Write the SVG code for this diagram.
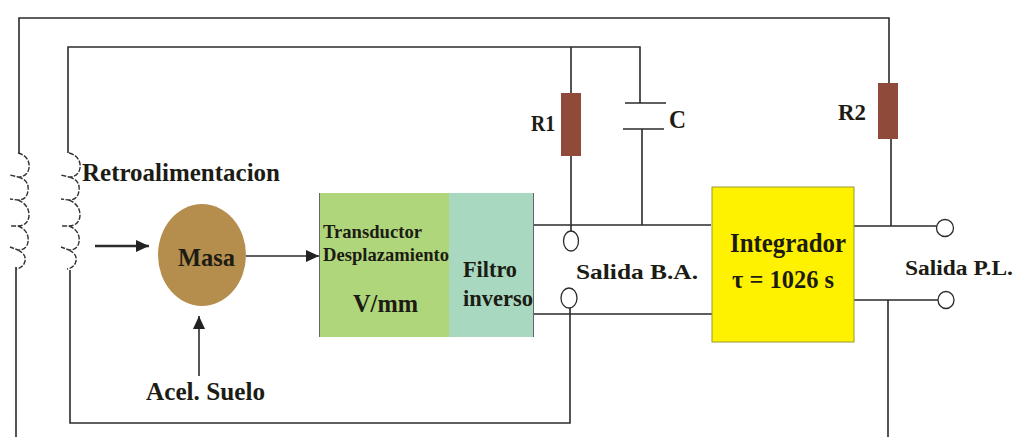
<svg xmlns="http://www.w3.org/2000/svg" width="1018" height="437" viewBox="0 0 1018 437">
<defs>
<marker id="arrow" markerUnits="userSpaceOnUse" markerWidth="14" markerHeight="12" refX="13" refY="6" orient="auto"><path d="M0 0L13 6L0 12Z" fill="#222"/></marker>
<path id="coil" d="M0 0C8 2 12 8 11 15C10 21 6 24 0 24L-8 22M0 24C8 26 11 31 10 38C9 44 6 47 0 47L-8 46M0 47C7 50 11 55 11 62C11 69 6 73 0 73L-8 73M0 73C8 76 11 82 10 89C9 95 5 97 0 97L-8 94M0 97C6 100 8 104 7 108C6 113 3 115 -2 116" fill="none" stroke="#333" stroke-width="1.4" stroke-dasharray="5 1.5"/>
</defs>
<style>
text{font-family:"Liberation Serif","Times New Roman",serif;font-weight:700;fill:#1c1c14;}
.w{fill:none;stroke:#2b2b2b;stroke-width:1.600}
.a{fill:none;stroke:#2b2b2b;stroke-width:1.600;marker-end:url(#arrow)}
.t{fill:#fff;stroke:#2b2b2b;stroke-width:1.300}
.r{fill:#8f4a3a}
</style>
<rect width="1018" height="437" fill="#fff"/>
<g id="connectors">
<path class="w" d="M19 153V18H889V83M891 139V226M854 226H937M853 300H938M888 300V437"/>
<path class="w" d="M68 153V47H640V103M625 103H666M623 129H664M642 129V225M534 225H711M534 314H712"/>
<path class="w" d="M571 47V231M70 270V423H570V308M16 267V437"/>
<path class="a" d="M95 246H149" style="stroke-width:2.400"/>
<path class="a" d="M246 256H319"/>
<path class="a" d="M199 376V316"/>
</g>
<g id="coil-left"><use href="#coil" x="18" y="153"/></g>
<g id="coil-right"><use href="#coil" x="69" y="153"/></g>
<g id="r1"><rect class="r" x="561" y="93" width="20" height="63"/><text x="531" y="131" font-size="24" textLength="24" lengthAdjust="spacingAndGlyphs">R1</text></g>
<g id="c"><text x="669" y="128" font-size="25" textLength="17" lengthAdjust="spacingAndGlyphs">C</text></g>
<g id="r2"><rect class="r" x="878" y="83" width="20" height="56"/><text x="838" y="120" font-size="24" textLength="28" lengthAdjust="spacingAndGlyphs">R2</text></g>
<g id="retro"><text x="82" y="181" font-size="25" textLength="198" lengthAdjust="spacingAndGlyphs">Retroalimentacion</text></g>
<g id="masa"><ellipse cx="202" cy="255" rx="44" ry="51" fill="#b58d4c"/><text x="178" y="266" font-size="26" textLength="57" lengthAdjust="spacingAndGlyphs">Masa</text></g>
<g id="suelo"><text x="146" y="400" font-size="25" textLength="119" lengthAdjust="spacingAndGlyphs">Acel. Suelo</text></g>
<g id="transductor"><rect x="319" y="193" width="130" height="144" fill="#b0d67b"/><path d="M319.500 193V337" stroke="#666" fill="none"/>
<text x="323" y="238" font-size="19" textLength="99" lengthAdjust="spacingAndGlyphs">Transductor</text>
<text x="323" y="261" font-size="19" textLength="126" lengthAdjust="spacingAndGlyphs">Desplazamiento</text>
<text x="353" y="312" font-size="25" textLength="65" lengthAdjust="spacingAndGlyphs">V/mm</text></g>
<g id="filtro"><rect x="449" y="193" width="85" height="144" fill="#a9d8c0"/><path d="M533.500 193V337" stroke="#666" fill="none"/>
<text x="463" y="277" font-size="23" textLength="54" lengthAdjust="spacingAndGlyphs">Filtro</text>
<text x="463" y="306" font-size="23" textLength="70" lengthAdjust="spacingAndGlyphs">inverso</text></g>
<g id="integrador"><rect x="712" y="187" width="142" height="155" fill="#fff200" stroke="#9a9a30"/>
<text x="730" y="252" font-size="27" textLength="116" lengthAdjust="spacingAndGlyphs">Integrador</text>
<text x="732" y="288" font-size="26" textLength="102" lengthAdjust="spacingAndGlyphs">τ = 1026 s</text></g>
<g id="salida-ba"><ellipse class="t" cx="571" cy="241" rx="7.500" ry="10"/><ellipse class="t" cx="569" cy="298" rx="8" ry="10"/><text x="576" y="279" font-size="21" textLength="122" lengthAdjust="spacingAndGlyphs">Salida B.A.</text></g>
<g id="salida-pl"><ellipse class="t" cx="945" cy="228" rx="8.500" ry="8.500"/><ellipse class="t" cx="946" cy="300" rx="8" ry="8.500"/><text x="905" y="275" font-size="20" textLength="108" lengthAdjust="spacingAndGlyphs">Salida P.L.</text></g>
</svg>
